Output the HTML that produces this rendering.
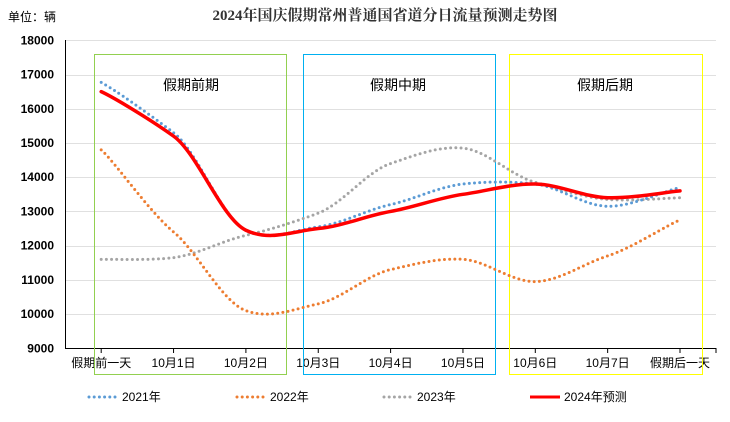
<!DOCTYPE html>
<html><head><meta charset="utf-8"><style>
html,body{margin:0;padding:0;background:#fff;}
body{width:730px;height:417px;overflow:hidden;}
text{font-family:"Liberation Sans","Noto Sans CJK SC",sans-serif;}
</style></head><body>
<svg id="s" width="730" height="417" xmlns="http://www.w3.org/2000/svg">
<text x="385" y="20" text-anchor="middle" font-size="15" font-weight="bold" style="font-family:'Liberation Serif','Noto Serif CJK SC',serif" fill="#333">2024年国庆假期常州普通国省道分日流量预测走势图</text>
<text x="8" y="21" font-size="12" fill="#000">单位：辆</text>
<g id="grid" stroke="#e0e0e0" stroke-width="1"></g>
<g id="ylab" font-size="12" font-weight="bold" fill="#000" text-anchor="end"></g>
<line x1="65.5" y1="40" x2="65.5" y2="348.5" stroke="#000"/>
<line x1="65" y1="348.5" x2="716" y2="348.5" stroke="#000"/>
<g id="xt" stroke="#000"></g>
<g id="xlab" font-size="12" fill="#000" text-anchor="middle"></g>
<rect x="94.5" y="54.5" width="192" height="320" fill="none" stroke="#92d050"/>
<rect x="303.5" y="54.5" width="192" height="320" fill="none" stroke="#00b0f0"/>
<rect x="509.5" y="54.5" width="193" height="320" fill="none" stroke="#ffff00"/>
<text x="191" y="90" font-size="14" text-anchor="middle">假期前期</text>
<text x="398" y="90" font-size="14" text-anchor="middle">假期中期</text>
<text x="605" y="90" font-size="14" text-anchor="middle">假期后期</text>
<g id="lines" fill="none"></g>
<g font-size="12" fill="#000">
<line x1="89" y1="397" x2="118" y2="397" stroke="#5b9bd5" stroke-width="3" stroke-dasharray="0 5.2" stroke-linecap="round"/>
<text x="122" y="401">2021年</text>
<line x1="237" y1="397" x2="266" y2="397" stroke="#ed7d31" stroke-width="3" stroke-dasharray="0 5.2" stroke-linecap="round"/>
<text x="270" y="401">2022年</text>
<line x1="384" y1="397" x2="413" y2="397" stroke="#a5a5a5" stroke-width="3" stroke-dasharray="0 5.2" stroke-linecap="round"/>
<text x="417" y="401">2023年</text>
<line x1="530" y1="397" x2="560" y2="397" stroke="#ff0000" stroke-width="3"/>
<text x="564" y="401">2024年预测</text>
</g>
</svg>
<script>
var NS="http://www.w3.org/2000/svg";
function el(p,t,a,txt){var e=document.createElementNS(NS,t);for(var k in a)e.setAttribute(k,a[k]);if(txt)e.textContent=txt;document.getElementById(p).appendChild(e);}
function Y(v){return 348.3-(v-9000)/1000*34.22;}
for(var v=10000;v<=18000;v+=1000){var y=Math.round(Y(v))+0.5;el("grid","line",{x1:66,x2:716,y1:y,y2:y});}
for(var v=9000;v<=18000;v+=1000){el("ylab","text",{x:54,y:Y(v)+4},String(v));}
var cats=["假期前一天","10月1日","10月2日","10月3日","10月4日","10月5日","10月6日","10月7日","假期后一天"];
function X(i){return 101.2+i*72.35;}
for(var i=0;i<9;i++){el("xlab","text",{x:X(i),y:367},cats[i]);el("xt","line",{x1:X(i),x2:X(i),y1:348,y2:353});}
el("xt","line",{x1:716,x2:716,y1:348,y2:353});
var D=[
["#a5a5a5",[11600,11650,12300,12950,14400,14850,13850,13350,13400],3,"0 5.2"],
["#ed7d31",[14800,12400,10100,10300,11300,11600,10950,11700,12750],3,"0 5.2"],
["#5b9bd5",[16770,15300,12450,12550,13200,13800,13800,13150,13700],3,"0 5.2"],
["#ff0000",[16500,15200,12450,12500,13000,13500,13800,13400,13600],3.5,""]
];
D.forEach(function(s){var p=s[1].map(function(v,i){return [X(i),Y(v)];});
var d="M"+p[0][0]+","+p[0][1];var k=8;
for(var i=0;i<p.length-1;i++){var p0=p[Math.max(i-1,0)],p1=p[i],p2=p[i+1],p3=p[Math.min(i+2,p.length-1)];
var c1=[p1[0]+(p2[0]-p0[0])/6,p1[1]+(p2[1]-p0[1])/k],c2=[p2[0]-(p3[0]-p1[0])/6,p2[1]-(p3[1]-p1[1])/k];
d+=" C"+c1+" "+c2+" "+p2;}
var a={d:d,stroke:s[0],"stroke-width":s[2],"stroke-linecap":"round"};if(s[3])a["stroke-dasharray"]=s[3];
el("lines","path",a);});
</script>
</body></html>
